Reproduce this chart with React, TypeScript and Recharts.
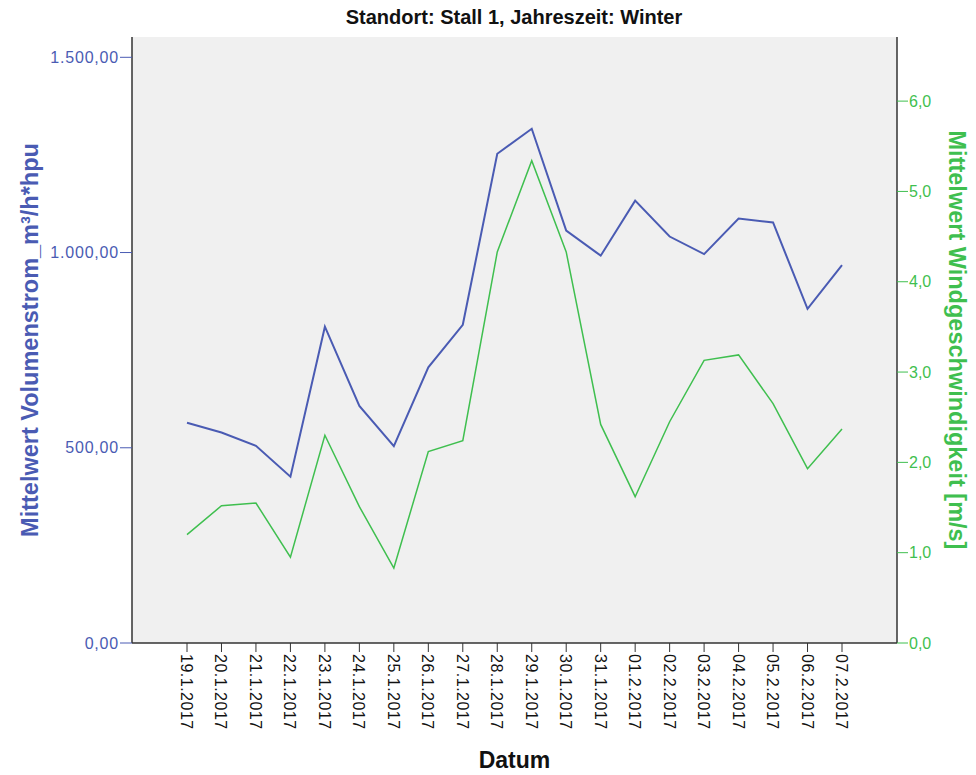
import React from "react";
import { LineChart, Line, XAxis, YAxis, CartesianGrid } from "recharts";

const dates = [
  "19.1.2017", "20.1.2017", "21.1.2017", "22.1.2017", "23.1.2017", "24.1.2017", "25.1.2017",
  "26.1.2017", "27.1.2017", "28.1.2017", "29.1.2017", "30.1.2017", "31.1.2017", "01.2.2017",
  "02.2.2017", "03.2.2017", "04.2.2017", "05.2.2017", "06.2.2017", "07.2.2017",
];

const volumenstrom = [
  564, 539, 505, 426, 810, 607, 504, 706, 815, 1253, 1317, 1056, 992, 1133, 1041, 996, 1087, 1077,
  856, 968,
];

const wind = [
  1.2, 1.52, 1.55, 0.95, 2.3, 1.51, 0.83, 2.12, 2.24, 4.33, 5.34, 4.33, 2.42, 1.62, 2.45, 3.13, 3.19,
  2.65, 1.93, 2.37,
];

const leftTicks = [0, 500, 1000, 1500];
const rightTicks = [0, 1, 2, 3, 4, 5, 6];

const data = dates.map((d, i) => ({ datum: d, vol: volumenstrom[i], wind: wind[i] }));

const BLUE = "#4a5bb3";
const GREEN = "#3fbf4f";
const FONT = "Arial, 'Liberation Sans', sans-serif";

const fmtLeft = (v: number) =>
  v.toLocaleString("de-DE", { minimumFractionDigits: 2, maximumFractionDigits: 2 });
const fmtRight = (v: number) =>
  v.toLocaleString("de-DE", { minimumFractionDigits: 1, maximumFractionDigits: 1 });

function DateTick(props: any) {
  const { x, y, payload } = props;
  return (
    <text
      x={x}
      y={y}
      transform={`rotate(90, ${x}, ${y})`}
      dy={6}
      textAnchor="start"
      fill="#111"
      fontSize={16}
      fontFamily={FONT}
      letterSpacing={0.5}
    >
      {payload.value}
    </text>
  );
}

export default function App() {
  return (
    <div style={{ position: "absolute", left: 0, top: 0, width: 976, height: 775, background: "#fff" }}>
      <div
        style={{
          position: "absolute",
          top: 6,
          width: 976,
          textAlign: "center",
          paddingLeft: 52,
          boxSizing: "border-box",
          fontFamily: FONT,
          fontWeight: "bold",
          fontSize: 20,
          color: "#111",
        }}
      >
        Standort: Stall 1, Jahreszeit: Winter
      </div>
      <LineChart
        width={976}
        height={775}
        data={data}
        margin={{ top: 37, right: 7, bottom: 7, left: 8 }}
      >
        <CartesianGrid fill="#f0f0f0" horizontal={false} vertical={false} />
        <XAxis
          dataKey="datum"
          interval={0}
          height={125}
          padding={{ left: 55, right: 55 }}
          axisLine={{ stroke: "#333", strokeWidth: 1.5 }}
          tickLine={{ stroke: "#333" }}
          tickSize={9}
          tick={<DateTick />}
          label={{
            value: "Datum",
            position: "insideBottom",
            offset: 0,
            fill: "#111",
            fontSize: 23,
            fontWeight: "bold",
            fontFamily: FONT,
          }}
        />
        <XAxis
          xAxisId="top"
          dataKey="datum"
          orientation="top"
          height={0}
          tick={false}
          tickLine={false}
          axisLine={{ stroke: "#555", strokeWidth: 1.5 }}
        />
        <YAxis
          yAxisId="left"
          width={124}
          domain={[0, 1552]}
          ticks={leftTicks}
          tickFormatter={fmtLeft}
          tickSize={12}
          tickMargin={1}
          axisLine={{ stroke: "#333", strokeWidth: 1.5 }}
          tickLine={{ stroke: BLUE }}
          tick={{ fill: BLUE, fontSize: 16, fontFamily: FONT, letterSpacing: 0.8 }}
          label={{
            value: "Mittelwert Volumenstrom_m³/h*hpu",
            angle: -90,
            position: "insideLeft",
            offset: 22,
            fill: BLUE,
            fontSize: 23.5,
            fontWeight: "bold",
            fontFamily: FONT,
            style: { textAnchor: "middle" },
          }}
        />
        <YAxis
          yAxisId="right"
          orientation="right"
          width={72}
          domain={[0, 6.71]}
          ticks={rightTicks}
          tickFormatter={fmtRight}
          tickSize={11}
          tickMargin={1}
          axisLine={{ stroke: "#333", strokeWidth: 1.5 }}
          tickLine={{ stroke: GREEN }}
          tick={{ fill: GREEN, fontSize: 16, fontFamily: FONT }}
          label={{
            value: "Mittelwert Windgeschwindigkeit [m/s]",
            angle: 90,
            position: "insideRight",
            offset: 12,
            fill: GREEN,
            fontSize: 23.5,
            fontWeight: "bold",
            fontFamily: FONT,
            style: { textAnchor: "middle" },
          }}
        />
        <Line
          yAxisId="left"
          dataKey="vol"
          stroke={BLUE}
          strokeWidth={2}
          dot={false}
          isAnimationActive={false}
        />
        <Line
          yAxisId="right"
          dataKey="wind"
          stroke={GREEN}
          strokeWidth={1.5}
          dot={false}
          isAnimationActive={false}
        />
      </LineChart>
    </div>
  );
}
